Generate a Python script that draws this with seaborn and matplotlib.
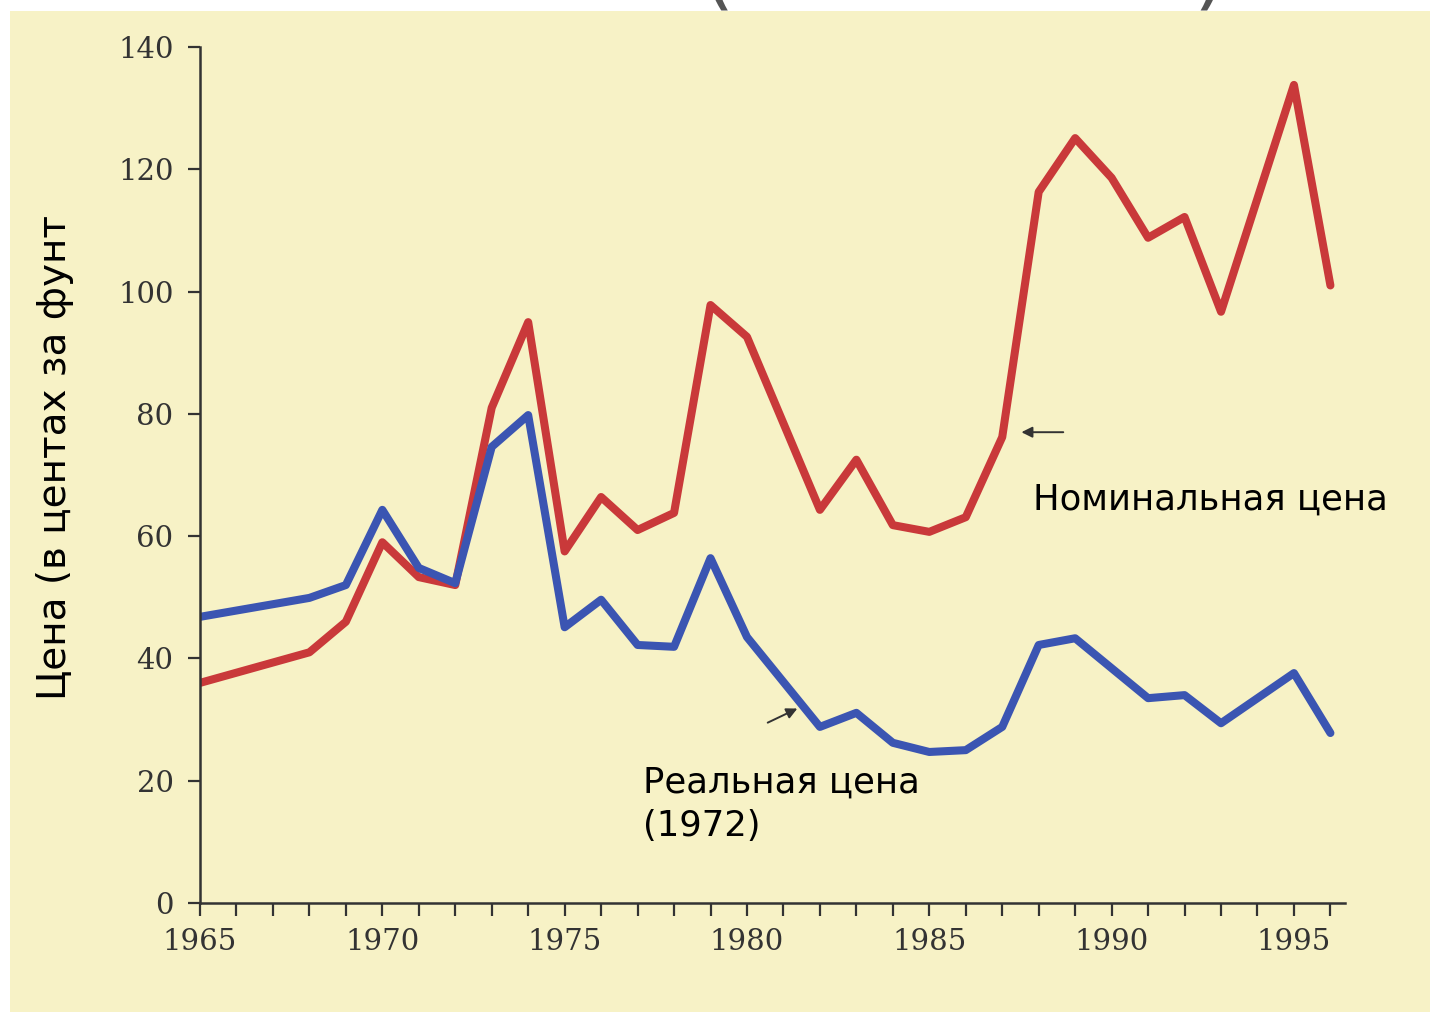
import matplotlib
matplotlib.use("Agg")
import matplotlib.pyplot as plt
import matplotlib.patches as mpatches
import pandas as pd
import seaborn as sns

sns.set_style("ticks")

# nominal price, cents per pound (red)
years_nominal = [1965, 1968, 1969, 1970, 1971, 1972, 1973, 1974, 1975, 1976, 1977, 1978,
                 1979, 1980, 1982, 1983, 1984, 1985, 1986, 1987, 1988, 1989, 1990, 1991,
                 1992, 1993, 1995, 1996]
nominal = [36, 41, 46, 59, 53.3, 52, 81, 95, 57.5, 66.4, 61, 63.8,
           97.8, 92.6, 64.3, 72.5, 61.8, 60.7, 63.1, 76.2, 116.3, 125.1, 118.6, 108.8,
           112.2, 96.7, 133.8, 101]

# real price, 1972 cents (blue)
years_real = [1965, 1968, 1969, 1970, 1971, 1972, 1973, 1974, 1975, 1976, 1977, 1978,
              1979, 1980, 1982, 1983, 1984, 1985, 1986, 1987, 1988, 1989, 1991, 1992,
              1993, 1995, 1996]
real = [46.8, 49.9, 52, 64.3, 54.8, 52.3, 74.6, 79.8, 45.1, 49.6, 42.2, 41.9,
        56.4, 43.5, 28.8, 31.1, 26.2, 24.7, 25, 28.8, 42.2, 43.3, 33.5, 34,
        29.4, 37.6, 27.8]

y_ticks = [0, 20, 40, 60, 80, 100, 120, 140]
x_ticks = [1965, 1970, 1975, 1980, 1985, 1990, 1995]

df_nom = pd.DataFrame({'year': years_nominal, 'price': nominal})
df_real = pd.DataFrame({'year': years_real, 'price': real})

paper = '#f7f2c6'
ink = '#333333'

fig = plt.figure(figsize=(14.37, 10.21), dpi=100, facecolor='white')
fig.patches.append(mpatches.Rectangle((10 / 1437, 9 / 1021), 1420 / 1437, 1001 / 1021,
                                      transform=fig.transFigure, facecolor=paper,
                                      edgecolor='none', zorder=-10))
ax = fig.add_axes([200 / 1437, 118 / 1021, 1145 / 1437, 856 / 1021])
ax.set_facecolor('none')

sns.lineplot(data=df_nom, x='year', y='price', color='#c9393a', linewidth=5.8, ax=ax)
sns.lineplot(data=df_real, x='year', y='price', color='#3b55b2', linewidth=5.8, ax=ax)

ax.set_xlim(1965, 1996.4)
ax.set_ylim(0, 140)
ax.set_xticks(x_ticks)
ax.set_xticks(range(1965, 1997), minor=True)
ax.set_yticks(y_ticks)
ax.set_xlabel('')
ax.set_ylabel('')
for side in ['top', 'right']:
    ax.spines[side].set_visible(False)
for side in ['left', 'bottom']:
    ax.spines[side].set_color(ink)
    ax.spines[side].set_linewidth(1.8)

ax.tick_params(axis='both', which='both', direction='out', length=9, width=1.6,
               color=ink, labelcolor=ink)
ax.tick_params(axis='y', pad=10)
ax.tick_params(axis='x', pad=9)
for lab in ax.get_xticklabels() + ax.get_yticklabels():
    lab.set_fontfamily('DejaVu Serif')
    lab.set_fontsize(21)

# annotations
ax.annotate('', xy=(1987.45, 77), xytext=(1988.75, 77),
            arrowprops=dict(arrowstyle='-|>', color=ink, lw=1.4, mutation_scale=16))
ax.annotate('', xy=(1981.45, 32), xytext=(1980.5, 29.3),
            arrowprops=dict(arrowstyle='-|>', color=ink, lw=1.4, mutation_scale=16))
ax.text(1987.85, 66, 'Номинальная цена', fontsize=25.5, color='black',
        ha='left', va='center', family='DejaVu Sans')
ax.text(1977.15, 22.5, 'Реальная цена\n(1972)', fontsize=25.5, color='black',
        ha='left', va='top', family='DejaVu Sans', linespacing=1.35)

fig.text(55 / 1437, 1 - 458 / 1021, 'Цена (в центах за фунт', rotation=90,
         fontsize=28, color='black', ha='center', va='center', family='DejaVu Sans')

# cropped title brackets along the top edge
fig.text(718 / 1437, 1.0, '(', fontsize=60, color='#555555', ha='center', va='baseline')
fig.text(1210 / 1437, 1.0, ')', fontsize=60, color='#555555', ha='center', va='baseline')

fig.savefig('out.png', dpi=100, facecolor='white')
